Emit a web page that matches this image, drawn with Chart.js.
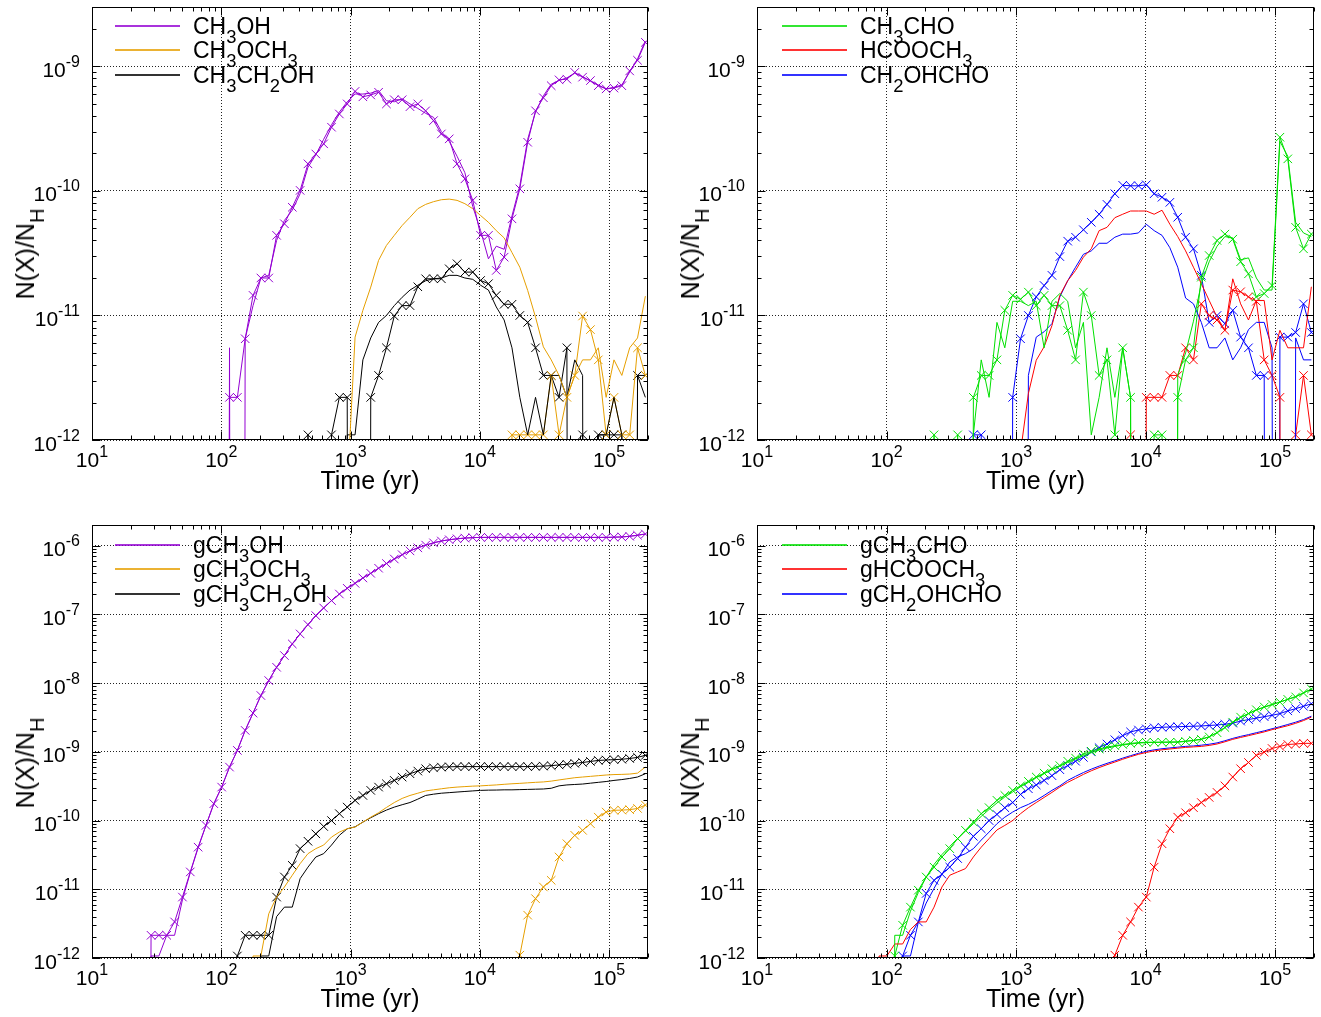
<!DOCTYPE html>
<html lang="en">
<head>
<meta charset="UTF-8" />
<title>COM abundances vs time</title>
<script src="https://cdn.jsdelivr.net/npm/chart.js"></script>
<style>
  html, body { margin: 0; padding: 0; background: #fff; overflow: hidden; }
  #fig { position: relative; width: 1321px; height: 1017px; overflow: hidden;
         font-family: "Liberation Sans", Arial, Helvetica, sans-serif; color: #000; }
  #fig canvas { position: absolute; }
  .key { position: absolute; font-size: 23px; z-index: 2; }
  .key .row { position: absolute; left: 0; height: 0; white-space: nowrap; }
  .key .sw { position: absolute; left: 0; top: -1px; width: 65px; height: 2px; opacity: 0.8; }
  .key .tx { position: absolute; left: 78px; top: -13px; line-height: 26px; }
  sub { font-size: 0.8em; vertical-align: -0.5em; line-height: 0; }
  .ylab { position: absolute; font-size: 25px; line-height: 28px; white-space: nowrap; z-index: 2;
          transform: translate(-50%, -50%) rotate(-90deg); }
</style>
</head>
<body>
<div id="fig">
  <canvas id="c0" width="655" height="510" style="left:0px;top:0px"></canvas>
  <canvas id="c1" width="656" height="510" style="left:665px;top:0px"></canvas>
  <canvas id="c2" width="655" height="499" style="left:0px;top:518px"></canvas>
  <canvas id="c3" width="656" height="499" style="left:665px;top:518px"></canvas>

  <!-- keys -->
  <div class="key" style="left:115px;top:26px">
    <div class="row" style="top:0px"><span class="sw" style="background:#9400d3"></span><span class="tx">CH<sub>3</sub>OH</span></div>
    <div class="row" style="top:24px"><span class="sw" style="background:#e69f00"></span><span class="tx">CH<sub>3</sub>OCH<sub>3</sub></span></div>
    <div class="row" style="top:49px"><span class="sw" style="background:#000"></span><span class="tx">CH<sub>3</sub>CH<sub>2</sub>OH</span></div>
  </div>
  <div class="key" style="left:782px;top:26px">
    <div class="row" style="top:0px"><span class="sw" style="background:#00e000"></span><span class="tx">CH<sub>3</sub>CHO</span></div>
    <div class="row" style="top:24px"><span class="sw" style="background:#ff0000"></span><span class="tx">HCOOCH<sub>3</sub></span></div>
    <div class="row" style="top:49px"><span class="sw" style="background:#0000ff"></span><span class="tx">CH<sub>2</sub>OHCHO</span></div>
  </div>
  <div class="key" style="left:115px;top:545px">
    <div class="row" style="top:0px"><span class="sw" style="background:#9400d3"></span><span class="tx">gCH<sub>3</sub>OH</span></div>
    <div class="row" style="top:24px"><span class="sw" style="background:#e69f00"></span><span class="tx">gCH<sub>3</sub>OCH<sub>3</sub></span></div>
    <div class="row" style="top:49px"><span class="sw" style="background:#000"></span><span class="tx">gCH<sub>3</sub>CH<sub>2</sub>OH</span></div>
  </div>
  <div class="key" style="left:782px;top:545px">
    <div class="row" style="top:0px"><span class="sw" style="background:#00e000"></span><span class="tx">gCH<sub>3</sub>CHO</span></div>
    <div class="row" style="top:24px"><span class="sw" style="background:#ff0000"></span><span class="tx">gHCOOCH<sub>3</sub></span></div>
    <div class="row" style="top:49px"><span class="sw" style="background:#0000ff"></span><span class="tx">gCH<sub>2</sub>OHCHO</span></div>
  </div>

  <!-- y axis labels -->
  <div class="ylab" style="left:25px;top:254px">N(X)/N<sub>H</sub></div>
  <div class="ylab" style="left:690px;top:254px">N(X)/N<sub>H</sub></div>
  <div class="ylab" style="left:25px;top:763px">N(X)/N<sub>H</sub></div>
  <div class="ylab" style="left:690px;top:763px">N(X)/N<sub>H</sub></div>
</div>

<script>
const FONT = '"Liberation Sans", Arial, Helvetica, sans-serif';
const PURPLE = '#9400d3', ORANGE = '#e69f00', BLACK = '#000000';
const GREEN = '#00e000', RED = '#ff0000', BLUE = '#0000ff';

// model output times (yr)
const times = [
  16.37, 18.82, 21.64, 24.89, 28.63, 32.92, 37.86, 43.54, 50.07, 57.58,
  66.21, 76.14, 87.57, 100.7, 115.8, 133.2, 153.1, 176.1, 202.5, 232.9,
  267.9, 308.0, 354.2, 407.4, 468.5, 538.8, 619.6, 712.5, 819.4, 942.3,
  1084, 1246, 1433, 1648, 1895, 2180, 2507, 2883, 3315, 3812,
  4384, 5041, 5798, 6667, 7667, 8818, 10140, 11661, 13410, 15421,
  17735, 20395, 23454, 26972, 31018, 35670, 41021, 47174, 54250, 62388,
  71746, 82508, 94884, 109117, 125484, 144307, 165953, 190846
];

const xTicks = [1e1, 1e2, 1e3, 1e4, 1e5];
const yTicksGas = [1e-12, 1e-11, 1e-10, 1e-9];
const yTicksIce = [1e-12, 1e-11, 1e-10, 1e-9, 1e-8, 1e-7, 1e-6];

// ---- gas phase, top left (plain line = model 1, crosses = model 2)
const ch3oh1 = [
  0,0,0,0,0,0,0,0,0,0,
  0,0,0,0,5.5e-12,0,6.5e-12,1.2e-11,2.0e-11,2.1e-11,
  4.0e-11,5.8e-11,7.0e-11,9.5e-11,1.55e-10,1.95e-10,2.6e-10,3.4e-10,4.3e-10,5.2e-10,
  6.0e-10,6.0e-10,6.1e-10,6.4e-10,5.3e-10,5.2e-10,5.5e-10,5.0e-10,4.6e-10,4.2e-10,
  3.9e-10,3.0e-10,2.5e-10,1.9e-10,1.4e-10,7.5e-11,4.8e-11,2.85e-11,3.6e-11,3.4e-11,
  6.3e-11,1.1e-10,2.6e-10,4.3e-10,5.8e-10,7.2e-10,7.7e-10,8.1e-10,8.8e-10,8.3e-10,
  7.6e-10,7.1e-10,6.6e-10,6.8e-10,7.1e-10,9.0e-10,1.15e-9,1.6e-9
];
const ch3oh2 = [
  0,0,0,0,0,0,0,0,0,0,
  0,0,0,0,2.2e-12,2.2e-12,6.5e-12,1.45e-11,2.0e-11,2.0e-11,
  4.4e-11,5.45e-11,7.4e-11,1.01e-10,1.65e-10,1.98e-10,2.39e-10,3.25e-10,4.15e-10,5.0e-10,
  6.3e-10,5.7e-10,5.9e-10,6.2e-10,5.0e-10,5.4e-10,5.4e-10,4.75e-10,5.0e-10,4.4e-10,
  3.67e-10,2.87e-10,2.62e-10,1.65e-10,1.25e-10,8.4e-11,4.4e-11,4.4e-11,2.3e-11,2.94e-11,
  5.97e-11,1.04e-10,2.46e-10,4.4e-10,5.6e-10,7.0e-10,7.8e-10,7.9e-10,8.95e-10,8.2e-10,
  7.7e-10,7.0e-10,6.6e-10,6.7e-10,7.0e-10,9.2e-10,1.12e-9,1.56e-9
];
const ch3och31 = [
  0,0,0,0,0,0,0,0,0,0,
  0,0,0,0,0,0,0,0,0,0,
  0,0,0,0,0,0,0,0,0,4e-13,
  6.7e-12,1.1e-11,1.69e-11,2.77e-11,3.65e-11,4.4e-11,5.28e-11,6.15e-11,7.2e-11,7.8e-11,
  8.2e-11,8.5e-11,8.6e-11,8.4e-11,7.9e-11,7.2e-11,6.35e-11,5.6e-11,4.8e-11,4.2e-11,
  3.2e-11,2.44e-11,1.59e-11,9.7e-12,5.6e-12,4.4e-12,3.3e-12,2.2e-12,3.3e-12,4.4e-12,
  4.4e-12,5.5e-12,2.2e-12,4.4e-12,3.3e-12,5.5e-12,6.6e-12,1.43e-11
];
const ch3och32 = [
  0,0,0,0,0,0,0,0,0,0,
  0,0,0,0,0,0,0,0,0,0,
  0,0,0,0,0,0,0,0,0,0,
  0,0,0,0,0,0,0,0,0,0,
  0,0,0,0,0,0,0,0,0,0,
  1.1e-12,1.1e-12,1.1e-12,1.1e-12,1.1e-12,3.3e-12,1.1e-12,2.2e-12,3.3e-12,9.9e-12,
  7.7e-12,4.4e-12,1.1e-12,2.2e-12,1.1e-12,1.1e-12,5.5e-12,3.3e-12
];
const c2h5oh1 = [
  0,0,0,0,0,0,0,0,0,0,
  0,0,0,0,0,0,0,0,0,0,
  0,0,0,0,0,0,0,0,0,1.1e-12,
  1.1e-12,4.4e-12,6.6e-12,8.8e-12,1.0e-11,1.2e-11,1.4e-11,1.6e-11,1.75e-11,1.9e-11,
  1.97e-11,2.0e-11,2.1e-11,2.1e-11,2.0e-11,1.95e-11,1.75e-11,1.6e-11,1.17e-11,9.2e-12,
  5.5e-12,2.2e-12,1.1e-12,2.2e-12,1.1e-12,3.3e-12,3.3e-12,2.2e-12,4.4e-12,3.3e-12,
  0,1.1e-12,1.1e-12,2.2e-12,1.1e-12,0,3.3e-12,2.2e-12
];
const c2h5oh2 = [
  0,0,0,0,0,0,0,0,0,0,
  0,0,0,0,0,0,0,0,0,0,
  0,0,0,0,1.1e-12,0,0,1.1e-12,2.2e-12,2.2e-12,
  0,0,2.2e-12,3.3e-12,5.5e-12,9.9e-12,1.2e-11,1.2e-11,1.7e-11,1.97e-11,
  1.97e-11,1.97e-11,2.37e-11,2.6e-11,2.23e-11,2.23e-11,1.91e-11,1.8e-11,1.45e-11,1.23e-11,
  1.23e-11,1.0e-11,8.8e-12,5.5e-12,3.3e-12,3.3e-12,2.2e-12,5.5e-12,0,1.1e-12,
  0,1.1e-12,1.1e-12,1.1e-12,1.1e-12,0,3.3e-12,3.3e-12
];

// ---- gas phase, top right
const ch3cho1 = [
  0,0,0,0,0,0,0,0,0,0,
  0,0,0,0,0,0,0,0,0,0,
  0,0,0,0,1.1e-12,4.4e-12,2.2e-12,8.8e-12,5.5e-12,1.3e-11,
  1.3e-11,1.2e-11,1.3e-11,5.5e-12,1.3e-11,1.5e-11,1.3e-11,5.5e-12,8.8e-12,1.1e-12,
  2.2e-12,5.5e-12,2.2e-12,5.5e-12,2.2e-12,0,0,0,0,0,
  3.3e-12,5.0e-12,9.0e-12,1.8e-11,2.7e-11,3.6e-11,4.3e-11,4.2e-11,2.8e-11,2.9e-11,
  2.0e-11,1.6e-11,1.6e-11,2.5e-10,1.9e-10,5.6e-11,4.6e-11,4.3e-11
];
const ch3cho2 = [
  0,0,0,0,0,0,0,0,0,0,
  0,0,0,0,0,0,0,0,0,1.1e-12,
  0,0,1.1e-12,0,2.2e-12,3.3e-12,3.3e-12,4.4e-12,1.1e-11,1.45e-11,
  1.35e-11,1.54e-11,1.2e-11,1.45e-11,1.2e-11,1.2e-11,7.6e-12,4.4e-12,1.54e-11,1.0e-11,
  3.3e-12,4.4e-12,1.1e-12,5.5e-12,2.2e-12,0,0,1.1e-12,1.1e-12,0,
  2.2e-12,4.4e-12,5.5e-12,2.03e-11,3.03e-11,4.0e-11,4.5e-11,4.1e-11,2.7e-11,2.16e-11,
  1.41e-11,1.5e-11,1.74e-11,2.7e-10,1.81e-10,5.1e-11,3.43e-11,4.5e-11
];
const hcooch31 = [
  0,0,0,0,0,0,0,0,0,0,
  0,0,0,0,0,0,0,0,0,0,
  0,0,0,0,0,0,0,0,0,0,
  8e-13,2.36e-12,4.37e-12,5.6e-12,8.3e-12,1.45e-11,1.9e-11,2.3e-11,2.94e-11,3.43e-11,
  4.8e-11,5.1e-11,6.1e-11,6.5e-11,6.9e-11,6.9e-11,6.9e-11,6.5e-11,7.0e-11,5.4e-11,
  4.3e-11,3.3e-11,2.44e-11,1.8e-11,1.32e-11,9.7e-12,7.6e-12,1.97e-11,1.24e-11,9.2e-12,
  1.32e-11,1.32e-11,4.4e-12,7.6e-12,5.5e-12,5.5e-12,5.5e-12,1.7e-11
];
const hcooch32 = [
  0,0,0,0,0,0,0,0,0,0,
  0,0,0,0,0,0,0,0,0,0,
  0,0,0,0,0,0,0,0,0,0,
  0,0,0,0,0,0,0,0,0,0,
  0,0,0,0,1.1e-12,0,2.2e-12,2.2e-12,2.2e-12,3.3e-12,
  3.3e-12,5.5e-12,4.4e-12,1.24e-11,1.0e-11,9.2e-12,7.6e-12,1.6e-11,1.55e-11,1.41e-11,
  1.3e-11,4.4e-12,3.3e-12,2.2e-12,0,1.1e-12,3.3e-12,1.1e-12
];
const gcolald1 = [
  0,0,0,0,0,0,0,0,0,0,
  0,0,0,0,0,0,0,0,0,0,
  0,0,0,0,0,0,0,0,0,0,
  0,3.3e-12,6.7e-12,7.4e-12,8.6e-12,1.41e-11,1.9e-11,2.44e-11,3.1e-11,3.3e-11,
  3.8e-11,3.8e-11,4.25e-11,4.5e-11,4.5e-11,4.6e-11,5.4e-11,4.8e-11,4.4e-11,3.5e-11,
  2.44e-11,1.38e-11,1.24e-11,8.8e-12,5.5e-12,5.5e-12,6.6e-12,4.4e-12,5.5e-12,7.7e-12,
  8.8e-12,8.8e-12,5.5e-12,0,0,6.6e-12,4.4e-12,4.4e-12
];
const gcolald2 = [
  0,0,0,0,0,0,0,0,0,0,
  0,0,0,0,0,0,0,0,0,0,
  0,0,0,0,1.1e-12,1.1e-12,0,0,0,2.2e-12,
  6.5e-12,1.0e-11,1.41e-11,1.74e-11,2.1e-11,2.97e-11,3.95e-11,4.25e-11,4.88e-11,5.6e-11,
  6.5e-11,7.8e-11,9.5e-11,1.11e-10,1.1e-10,1.1e-10,1.12e-10,9.5e-11,8.9e-11,8.1e-11,
  6.15e-11,4.25e-11,3.43e-11,2.1e-11,8.8e-12,1.0e-11,8.6e-12,1.1e-11,6.7e-12,5.5e-12,
  3.3e-12,3.3e-12,0,6.7e-12,6.7e-12,7.3e-12,1.24e-11,7.3e-12
];

// ---- ice, bottom left
const gch3oh1 = [
  0,0,0,0,1.07e-12,1.07e-12,2.14e-12,2.14e-12,7.0e-12,1.75e-11,
  4.0e-11,8.5e-11,1.76e-10,3.07e-10,6.0e-10,1.05e-9,2.05e-9,3.66e-9,6.6e-9,1.09e-8,
  1.7e-8,2.52e-8,3.72e-8,5.2e-8,7.1e-8,9.6e-8,1.24e-7,1.59e-7,1.98e-7,2.4e-7,
  2.83e-7,3.39e-7,3.96e-7,4.7e-7,5.5e-7,6.4e-7,7.4e-7,8.4e-7,9.3e-7,1.02e-6,
  1.1e-6,1.17e-6,1.22e-6,1.26e-6,1.29e-6,1.31e-6,1.32e-6,1.32e-6,1.32e-6,1.32e-6,
  1.32e-6,1.32e-6,1.32e-6,1.32e-6,1.32e-6,1.32e-6,1.32e-6,1.32e-6,1.32e-6,1.32e-6,
  1.32e-6,1.32e-6,1.32e-6,1.33e-6,1.34e-6,1.37e-6,1.42e-6,1.48e-6
];
const gch3oh2 = [
  0,0,0,0,2.14e-12,2.14e-12,2.14e-12,3.35e-12,7.7e-12,1.79e-11,
  4.1e-11,8.5e-11,1.76e-10,3.07e-10,6.0e-10,1.05e-9,2.05e-9,3.66e-9,6.6e-9,1.09e-8,
  1.7e-8,2.52e-8,3.72e-8,5.2e-8,7.1e-8,9.6e-8,1.24e-7,1.59e-7,1.98e-7,2.4e-7,
  2.83e-7,3.39e-7,3.96e-7,4.7e-7,5.5e-7,6.4e-7,7.4e-7,8.4e-7,9.3e-7,1.02e-6,
  1.1e-6,1.17e-6,1.22e-6,1.26e-6,1.29e-6,1.31e-6,1.32e-6,1.32e-6,1.32e-6,1.32e-6,
  1.32e-6,1.32e-6,1.32e-6,1.32e-6,1.32e-6,1.32e-6,1.32e-6,1.32e-6,1.32e-6,1.32e-6,
  1.32e-6,1.32e-6,1.32e-6,1.33e-6,1.34e-6,1.37e-6,1.42e-6,1.48e-6
];
const gch3och31 = [
  0,0,0,0,0,0,0,0,0,0,
  0,0,0,0,0,0,0,1.07e-12,1.07e-12,4.4e-12,
  7.7e-12,1.08e-11,1.6e-11,2.36e-11,3.3e-11,3.9e-11,4.4e-11,5.75e-11,6.8e-11,7.6e-11,
  8.05e-11,9.5e-11,1.12e-10,1.3e-10,1.55e-10,1.83e-10,2.1e-10,2.32e-10,2.5e-10,2.7e-10,
  2.8e-10,2.9e-10,3.0e-10,3.07e-10,3.12e-10,3.17e-10,3.2e-10,3.25e-10,3.3e-10,3.37e-10,
  3.43e-10,3.48e-10,3.54e-10,3.6e-10,3.65e-10,3.75e-10,3.9e-10,4.05e-10,4.2e-10,4.3e-10,
  4.4e-10,4.5e-10,4.6e-10,4.67e-10,4.7e-10,4.75e-10,4.9e-10,6.0e-10
];
const gch3och32 = [
  0,0,0,0,0,0,0,0,0,0,
  0,0,0,0,0,0,0,0,0,0,
  0,0,0,0,0,0,0,0,0,0,
  0,0,0,0,0,0,0,0,0,0,
  0,0,0,0,0,0,0,0,0,0,
  0,1.1e-12,4.2e-12,7.3e-12,1.08e-11,1.35e-11,2.95e-11,4.6e-11,6.1e-11,7.2e-11,
  9.0e-11,1.12e-10,1.33e-10,1.41e-10,1.42e-10,1.44e-10,1.5e-10,1.68e-10
];
const gc2h5oh1 = [
  0,0,0,0,0,0,0,0,0,0,
  0,0,0,0,0,0,0,0,1.07e-12,1.07e-12,
  4.0e-12,5.5e-12,5.5e-12,1.43e-11,2.1e-11,2.95e-11,3.3e-11,4.4e-11,6.1e-11,7.6e-11,
  8.1e-11,9.5e-11,1.1e-10,1.26e-10,1.42e-10,1.57e-10,1.7e-10,1.83e-10,2.05e-10,2.32e-10,
  2.42e-10,2.5e-10,2.55e-10,2.6e-10,2.65e-10,2.7e-10,2.75e-10,2.77e-10,2.78e-10,2.8e-10,
  2.8e-10,2.82e-10,2.84e-10,2.86e-10,2.88e-10,2.95e-10,3.2e-10,3.3e-10,3.35e-10,3.4e-10,
  3.5e-10,3.6e-10,3.7e-10,3.84e-10,3.95e-10,4.1e-10,4.3e-10,4.8e-10
];
const gc2h5oh2 = [
  0,0,0,0,0,0,0,0,0,0,
  0,0,0,0,0,1.07e-12,2.14e-12,2.14e-12,2.14e-12,2.14e-12,
  7.7e-12,1.51e-11,2.23e-11,3.9e-11,5.0e-11,6.4e-11,8.2e-11,1.0e-10,1.26e-10,1.57e-10,
  1.97e-10,2.32e-10,2.75e-10,3.07e-10,3.43e-10,3.84e-10,4.29e-10,4.8e-10,5.25e-10,5.68e-10,
  5.85e-10,6.0e-10,6.05e-10,6.1e-10,6.1e-10,6.1e-10,6.1e-10,6.1e-10,6.1e-10,6.1e-10,
  6.1e-10,6.1e-10,6.1e-10,6.15e-10,6.2e-10,6.3e-10,6.45e-10,6.6e-10,6.8e-10,7.0e-10,
  7.25e-10,7.5e-10,7.6e-10,7.7e-10,7.8e-10,8.0e-10,8.3e-10,8.9e-10
];

// ---- ice, bottom right
const gch3cho1 = [
  0,0,0,0,0,0,0,0,0,0,
  0,0,0,0,2.14e-12,2.14e-12,4.8e-12,9.0e-12,1.5e-11,2.3e-11,
  3.2e-11,4.2e-11,5.5e-11,7.0e-11,9.0e-11,1.15e-10,1.45e-10,1.8e-10,2.2e-10,2.6e-10,
  3.1e-10,3.6e-10,4.2e-10,4.8e-10,5.5e-10,6.2e-10,7.0e-10,7.9e-10,8.8e-10,9.7e-10,
  1.06e-9,1.14e-9,1.2e-9,1.26e-9,1.3e-9,1.34e-9,1.36e-9,1.37e-9,1.38e-9,1.39e-9,
  1.4e-9,1.43e-9,1.47e-9,1.53e-9,1.66e-9,1.9e-9,2.25e-9,2.7e-9,3.15e-9,3.6e-9,
  4.05e-9,4.45e-9,4.85e-9,5.3e-9,5.8e-9,6.4e-9,7.2e-9,8.2e-9
];
const gch3cho2 = [
  0,0,0,0,0,0,0,0,0,0,
  0,0,0,0,1.07e-12,3.0e-12,5.5e-12,9.7e-12,1.51e-11,2.1e-11,
  2.95e-11,3.9e-11,5.46e-11,7.2e-11,9.5e-11,1.26e-10,1.54e-10,1.97e-10,2.32e-10,2.75e-10,
  3.2e-10,3.72e-10,4.3e-10,4.9e-10,5.68e-10,6.3e-10,7.3e-10,8.1e-10,9.3e-10,1.02e-9,
  1.1e-9,1.17e-9,1.23e-9,1.28e-9,1.33e-9,1.36e-9,1.38e-9,1.38e-9,1.38e-9,1.38e-9,
  1.38e-9,1.42e-9,1.46e-9,1.52e-9,1.65e-9,1.9e-9,2.26e-9,2.7e-9,3.2e-9,3.6e-9,
  4.1e-9,4.5e-9,4.9e-9,5.3e-9,5.8e-9,6.3e-9,7.2e-9,8.2e-9
];
const ghcooch31 = [
  0,0,0,0,0,0,0,0,0,0,
  0,0,1.07e-12,1.07e-12,1.6e-12,1.6e-12,2.6e-12,3.35e-12,3.35e-12,5.5e-12,
  1.08e-11,1.6e-11,1.79e-11,2.0e-11,2.95e-11,4.1e-11,5.46e-11,7.3e-11,8.5e-11,1.0e-10,
  1.26e-10,1.54e-10,1.83e-10,2.17e-10,2.57e-10,3.07e-10,3.6e-10,4.1e-10,4.7e-10,5.3e-10,
  5.9e-10,6.5e-10,7.1e-10,7.8e-10,8.5e-10,9.2e-10,9.8e-10,1.03e-9,1.07e-9,1.1e-9,
  1.13e-9,1.16e-9,1.18e-9,1.2e-9,1.24e-9,1.3e-9,1.4e-9,1.52e-9,1.62e-9,1.72e-9,
  1.83e-9,1.95e-9,2.1e-9,2.25e-9,2.4e-9,2.6e-9,2.85e-9,3.2e-9
];
const ghcooch32 = [
  0,0,0,0,0,0,0,0,0,0,
  0,0,0,0,0,0,0,0,0,0,
  0,0,0,0,0,0,0,0,0,0,
  0,0,0,0,0,0,0,0,0,0,
  0,5e-13,1.1e-12,2.14e-12,3.35e-12,5.5e-12,7.7e-12,2.1e-11,4.6e-11,7.6e-11,
  1.12e-10,1.3e-10,1.54e-10,1.83e-10,2.17e-10,2.57e-10,3.2e-10,4.3e-10,5.68e-10,7.0e-10,
  8.9e-10,9.9e-10,1.12e-9,1.2e-9,1.28e-9,1.3e-9,1.33e-9,1.33e-9
];
const ggcolald1 = [
  0,0,0,0,0,0,0,0,0,0,
  0,0,0,0,0,1.07e-12,1.07e-12,3.3e-12,6.3e-12,1.03e-11,
  1.66e-11,2.5e-11,2.95e-11,3.3e-11,3.9e-11,5.2e-11,6.8e-11,9.0e-11,1.12e-10,1.33e-10,
  1.54e-10,1.72e-10,1.97e-10,2.32e-10,2.75e-10,3.2e-10,3.84e-10,4.4e-10,5.0e-10,5.6e-10,
  6.2e-10,6.8e-10,7.4e-10,8.1e-10,8.8e-10,9.5e-10,1.02e-9,1.07e-9,1.11e-9,1.14e-9,
  1.17e-9,1.2e-9,1.22e-9,1.25e-9,1.29e-9,1.35e-9,1.45e-9,1.57e-9,1.68e-9,1.78e-9,
  1.9e-9,2.02e-9,2.17e-9,2.32e-9,2.5e-9,2.7e-9,2.95e-9,3.3e-9
];
const ggcolald2 = [
  0,0,0,0,0,0,0,0,0,0,
  0,0,0,0,0,1.07e-12,2.14e-12,3.35e-12,8.7e-12,1.35e-11,
  1.66e-11,2.1e-11,2.8e-11,4.1e-11,5.9e-11,7.6e-11,1.0e-10,1.23e-10,1.54e-10,1.83e-10,
  2.4e-10,2.9e-10,3.3e-10,3.84e-10,4.5e-10,5.5e-10,6.3e-10,7.3e-10,8.3e-10,1.0e-9,
  1.15e-9,1.3e-9,1.5e-9,1.72e-9,1.95e-9,2.08e-9,2.16e-9,2.24e-9,2.28e-9,2.3e-9,
  2.32e-9,2.34e-9,2.36e-9,2.38e-9,2.42e-9,2.46e-9,2.52e-9,2.62e-9,2.8e-9,2.95e-9,
  3.1e-9,3.25e-9,3.4e-9,3.6e-9,3.95e-9,4.25e-9,4.6e-9,5.0e-9
];

// zero abundance -> far below the axis, so the curve drops straight down like gnuplot does
function pts(values) {
  return values.map((v, i) => ({ x: times[i], y: v > 0 ? v : 1e-40 }));
}
function plain(label, color, values) {
  return { label, data: pts(values), borderColor: color, borderWidth: 1,
           pointRadius: 0, tension: 0, fill: false, clip: 0 };
}
function crosses(label, color, values) {
  return { label, data: pts(values), borderColor: color, borderWidth: 1,
           pointRadius: 6, pointStyle: 'crossRot', pointBorderColor: color,
           pointBorderWidth: 1, tension: 0, fill: false, clip: 0 };
}

function logTicks(min, max) {
  const out = [];
  for (let e = Math.floor(Math.log10(min)); e <= Math.ceil(Math.log10(max)); e++) {
    for (let m = 1; m < 10; m++) {
      const v = m * Math.pow(10, e);
      if (v >= min * 0.999 && v <= max * 1.001) out.push([v, m === 1]);
    }
  }
  return out;
}

// "10" with a raised exponent, like gnuplot's enhanced text
function powerLabel(ctx, e, x, y, align) {
  const base = '10', sup = String(e);
  ctx.font = '21px ' + FONT;
  const wb = ctx.measureText(base).width;
  ctx.font = '16px ' + FONT;
  const ws = ctx.measureText(sup).width;
  const x0 = align === 'center' ? x - (wb + ws) / 2 : x - wb - ws;
  ctx.font = '21px ' + FONT;
  ctx.fillText(base, x0, y);
  ctx.font = '16px ' + FONT;
  ctx.fillText(sup, x0 + wb, y - 10);
}

// frame with inward ticks on all four sides, plus tick labels
const gnuFrame = {
  id: 'gnuFrame',
  afterDraw(chart) {
    const { ctx, chartArea: a } = chart;
    const xs = chart.scales.x, ys = chart.scales.y;
    const L = Math.round(a.left) + 0.5, R = Math.round(a.right) - 0.5;
    const T = Math.round(a.top) + 0.5, B = Math.round(a.bottom) - 0.5;
    ctx.save();
    ctx.setLineDash([]);
    ctx.strokeStyle = '#000';
    ctx.lineWidth = 1;
    ctx.strokeRect(L, T, R - L, B - T);
    ctx.beginPath();
    logTicks(xs.min, xs.max).forEach(([v, major]) => {
      const p = Math.round(xs.getPixelForValue(v)) + 0.5;
      const len = major ? 8 : 4;
      ctx.moveTo(p, B); ctx.lineTo(p, B - len);
      ctx.moveTo(p, T); ctx.lineTo(p, T + len);
    });
    logTicks(ys.min, ys.max).forEach(([v, major]) => {
      const p = Math.round(ys.getPixelForValue(v)) + 0.5;
      const len = major ? 8 : 4;
      ctx.moveTo(L, p); ctx.lineTo(L + len, p);
      ctx.moveTo(R, p); ctx.lineTo(R - len, p);
    });
    ctx.stroke();

    ctx.fillStyle = '#000';
    ctx.textBaseline = 'alphabetic';
    xs.ticks.forEach(t => {
      powerLabel(ctx, Math.round(Math.log10(t.value)), xs.getPixelForValue(t.value), a.bottom + 27, 'center');
    });
    ys.ticks.forEach(t => {
      powerLabel(ctx, Math.round(Math.log10(t.value)), a.left - 12, ys.getPixelForValue(t.value) + 10.5, 'right');
    });
    ctx.restore();
  }
};

function makePanel(id, yMax, yTicks, xAxisHeight, titlePad, datasets) {
  return new Chart(document.getElementById(id), {
    type: 'line',
    data: { datasets },
    options: {
      responsive: false,
      animation: false,
      events: [],
      layout: { padding: { top: 7, right: 5, left: 0, bottom: 0 } },
      plugins: { legend: { display: false }, tooltip: { enabled: false } },
      scales: {
        x: {
          type: 'logarithmic', min: 10, max: 2e5,
          afterBuildTicks: s => { s.ticks = xTicks.map(v => ({ value: v })); },
          afterFit: s => { s.height = xAxisHeight; },
          ticks: { display: false },
          grid: { color: '#222', lineWidth: 1, drawTicks: false },
          border: { display: false, dash: [1, 2] },
          title: { display: true, text: 'Time (yr)', color: '#000',
                   font: { family: FONT, size: 25 }, padding: { top: 0, bottom: titlePad } }
        },
        y: {
          type: 'logarithmic', min: 1e-12, max: yMax,
          afterBuildTicks: s => { s.ticks = yTicks.map(v => ({ value: v })); },
          afterFit: s => { s.width = 92; },
          ticks: { display: false },
          grid: { color: '#222', lineWidth: 1, drawTicks: false },
          border: { display: false, dash: [1, 2] }
        }
      }
    },
    plugins: [gnuFrame]
  });
}

makePanel('c0', 3e-9, yTicksGas, 70, 13, [
  plain('CH3OH', PURPLE, ch3oh1),
  plain('CH3OCH3', ORANGE, ch3och31),
  plain('CH3CH2OH', BLACK, c2h5oh1),
  crosses('CH3OH (2)', PURPLE, ch3oh2),
  crosses('CH3OCH3 (2)', ORANGE, ch3och32),
  crosses('CH3CH2OH (2)', BLACK, c2h5oh2)
]);
makePanel('c1', 3e-9, yTicksGas, 70, 13, [
  plain('CH3CHO', GREEN, ch3cho1),
  plain('HCOOCH3', RED, hcooch31),
  plain('CH2OHCHO', BLUE, gcolald1),
  crosses('CH3CHO (2)', GREEN, ch3cho2),
  crosses('HCOOCH3 (2)', RED, hcooch32),
  crosses('CH2OHCHO (2)', BLUE, gcolald2)
]);
makePanel('c2', 2e-6, yTicksIce, 59, 2, [
  plain('gCH3OH', PURPLE, gch3oh1),
  plain('gCH3OCH3', ORANGE, gch3och31),
  plain('gCH3CH2OH', BLACK, gc2h5oh1),
  crosses('gCH3OH (2)', PURPLE, gch3oh2),
  crosses('gCH3OCH3 (2)', ORANGE, gch3och32),
  crosses('gCH3CH2OH (2)', BLACK, gc2h5oh2)
]);
makePanel('c3', 2e-6, yTicksIce, 59, 2, [
  plain('gCH3CHO', GREEN, gch3cho1),
  plain('gHCOOCH3', RED, ghcooch31),
  plain('gCH2OHCHO', BLUE, ggcolald1),
  crosses('gCH3CHO (2)', GREEN, gch3cho2),
  crosses('gHCOOCH3 (2)', RED, ghcooch32),
  crosses('gCH2OHCHO (2)', BLUE, ggcolald2)
]);
</script>
</body>
</html>
